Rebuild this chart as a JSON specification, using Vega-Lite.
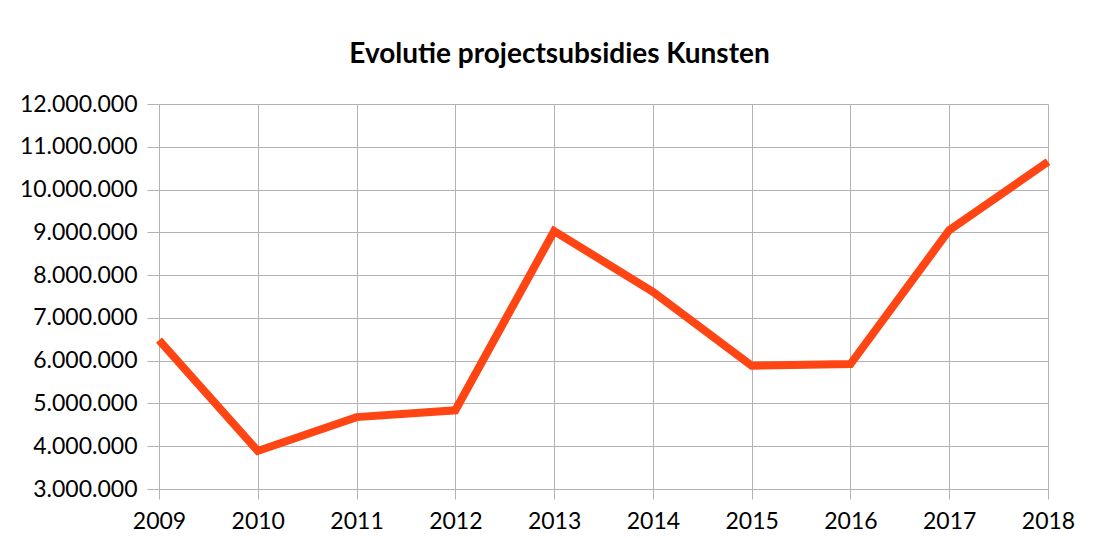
{
  "$schema": "https://vega.github.io/schema/vega-lite/v6.json",
  "width": 889,
  "height": 385,
  "autosize": {"type": "none"},
  "padding": {"left": 159, "top": 104, "right": 49, "bottom": 49},
  "background": "white",
  "config": {
    "locale": {"number": {"decimal": ",", "thousands": ".", "grouping": [3], "currency": ["€", ""]}},
    "font": "Lato",
    "view": {"stroke": null}
  },
  "title": {
    "text": "Evolutie projectsubsidies Kunsten",
    "font": "Lato",
    "fontSize": 28,
    "fontWeight": "bold",
    "color": "#000000",
    "anchor": "middle",
    "frame": "group",
    "dx": -44,
    "offset": 24
  },
  "data": {
    "values": [
      {"jaar": 2009, "bedrag": 6480000},
      {"jaar": 2010, "bedrag": 3890000},
      {"jaar": 2011, "bedrag": 4680000},
      {"jaar": 2012, "bedrag": 4840000},
      {"jaar": 2013, "bedrag": 9030000},
      {"jaar": 2014, "bedrag": 7610000},
      {"jaar": 2015, "bedrag": 5880000},
      {"jaar": 2016, "bedrag": 5920000},
      {"jaar": 2017, "bedrag": 9050000},
      {"jaar": 2018, "bedrag": 10650000}
    ]
  },
  "mark": {"type": "line", "color": "#ff4513", "strokeWidth": 8, "strokeJoin": "miter", "strokeCap": "butt"},
  "encoding": {
    "x": {
      "field": "jaar",
      "type": "quantitative",
      "scale": {"domain": [2009, 2018], "nice": false, "zero": false},
      "axis": {
        "title": null,
        "values": [2009, 2010, 2011, 2012, 2013, 2014, 2015, 2016, 2017, 2018],
        "format": "d",
        "labelFont": "Lato",
        "labelFontSize": 23,
        "labelColor": "#000000",
        "labelPadding": 11,
        "tickSize": 10,
        "tickColor": "#b3b3b3",
        "domainColor": "#b3b3b3",
        "gridColor": "#b3b3b3",
        "grid": true,
        "labelFlush": false,
        "labelOverlap": false
      }
    },
    "y": {
      "field": "bedrag",
      "type": "quantitative",
      "scale": {"domain": [3000000, 12000000], "nice": false, "zero": false},
      "axis": {
        "title": null,
        "values": [3000000, 4000000, 5000000, 6000000, 7000000, 8000000, 9000000, 10000000, 11000000, 12000000],
        "format": ",d",
        "labelFont": "Lato",
        "labelFontSize": 23,
        "labelColor": "#000000",
        "labelPadding": 10,
        "tickSize": 12,
        "tickColor": "#b3b3b3",
        "domainColor": "#b3b3b3",
        "gridColor": "#b3b3b3",
        "grid": true,
        "labelFlush": false,
        "labelOverlap": false
      }
    }
  }
}
